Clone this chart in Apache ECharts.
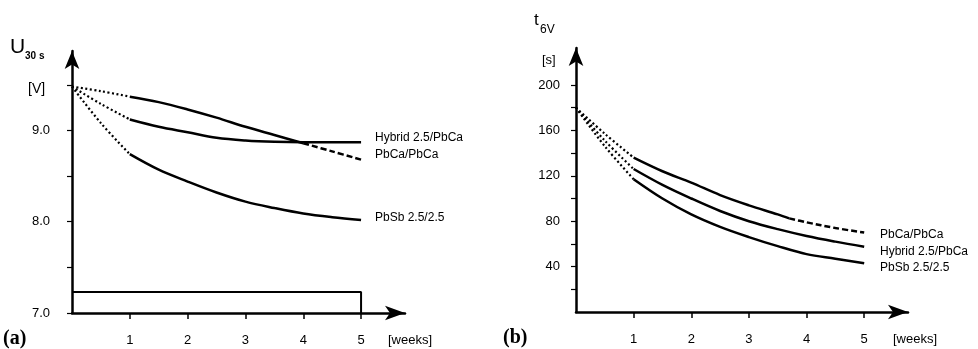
<!DOCTYPE html>
<html>
<head>
<meta charset="utf-8">
<script src="https://cdn.jsdelivr.net/npm/echarts@6/dist/echarts.min.js"></script>
<style>
  html, body { margin: 0; padding: 0; background: #fff; }
  #chart_box { width: 978px; height: 349px; }
</style>
</head>
<body>
<div id="chart_box"></div>
<script>
// weeks sampled on both panels
const weeks = [0, 0.5, 1, 1.5, 2, 2.5, 3, 3.5, 4, 4.5, 5];

// (a) U30s [V]
const pbcaA   = [9.48, 9.43, 9.37, 9.31, 9.23, 9.14, 9.04, 8.95, 8.86, 8.77, 8.68];
const hybridA = [9.48, 9.29, 9.12, 9.04, 8.98, 8.92, 8.89, 8.875, 8.87, 8.87, 8.87];
const pbsbA   = [9.48, 9.08, 8.74, 8.57, 8.44, 8.32, 8.22, 8.15, 8.09, 8.05, 8.02];
const boxX = [0, 5, 5];
const boxY = [7.23, 7.23, 7.0];
const yTicksA = [7, 7.5, 8, 8.5, 9, 9.5];
const yLabelsA = [7, 8, 9];

// (b) t6V [s]
const weeksPbcaB = [0, 0.5, 1, 1.5, 2, 2.5, 3, 3.5, 3.7, 4, 4.5, 5];
const pbcaB   = [180, 157, 136, 124, 114, 103, 94, 86, 82.5, 79, 74, 70];
const hybridB = [180, 151, 126, 112, 100, 89, 80, 73, 67, 62, 57.5];
const pbsbB   = [180, 146, 117, 100, 86, 75, 66, 58, 51, 47, 43];
const yTicksB = [20, 40, 60, 80, 100, 120, 140, 160, 180, 200];
const yLabelsB = [40, 80, 120, 160, 200];

const xTicks = [1, 2, 3, 4, 5];

const FONT = '"Liberation Sans", Arial, sans-serif';
const SERIF = '"Liberation Serif", "Times New Roman", serif';

// pick the part of a curve between two weeks
function seg(idx, xs, ys, from, to, dash, width) {
  const data = [];
  xs.forEach((x, i) => { if (x >= from && x <= to) data.push([x, ys[i]]); });
  return {
    type: 'line', xAxisIndex: idx, yAxisIndex: idx, data: data,
    smooth: 0.35, symbol: 'none', silent: true,
    lineStyle: { color: '#000', width: width || 2.5, type: dash || 'solid', cap: 'butt' }
  };
}

function xAxis(idx) {
  return {
    gridIndex: idx, type: 'value', min: 0, max: 5.76, interval: 1,
    axisLine: { show: true, lineStyle: { color: '#000', width: 2.5 },
      symbol: ['none', 'arrow'], symbolSize: [11, 20] },
    axisTick: { show: true, length: 6, customValues: xTicks, lineStyle: { color: '#000', width: 1.5 } },
    axisLabel: { customValues: xTicks, margin: 21, color: '#000', fontSize: 13, fontFamily: FONT },
    splitLine: { show: false }
  };
}

const DOT = [2, 2.5];
const DASH = [6, 3];

let myChart = echarts.init(document.getElementById('chart_box'));
myChart.setOption({
  animation: false,
  backgroundColor: '#fff',
  grid: [
    { left: 72, top: 51, width: 333, height: 262 },
    { left: 576, top: 48, width: 332, height: 264 }
  ],
  xAxis: [xAxis(0), xAxis(1)],
  yAxis: [
    {
      gridIndex: 0, type: 'value', min: 7, max: 9.87,
      axisLine: { show: true, lineStyle: { color: '#000', width: 2.5 },
        symbol: ['none', 'arrow'], symbolSize: [11, 18] },
      axisTick: { show: true, length: 5, customValues: yTicksA, lineStyle: { color: '#000', width: 1.2 } },
      axisLabel: { customValues: yLabelsA, margin: 22, color: '#000', fontSize: 13, fontFamily: FONT,
        formatter: v => v.toFixed(1) },
      splitLine: { show: false }
    },
    {
      gridIndex: 1, type: 'value', min: 0, max: 232.6,
      axisLine: { show: true, lineStyle: { color: '#000', width: 2.5 },
        symbol: ['none', 'arrow'], symbolSize: [11, 18] },
      axisTick: { show: true, length: 5, customValues: yTicksB, lineStyle: { color: '#000', width: 1.2 } },
      axisLabel: { customValues: yLabelsB, margin: 16, color: '#000', fontSize: 13, fontFamily: FONT },
      splitLine: { show: false }
    }
  ],
  series: [
    // (a)
    seg(0, weeks, pbcaA, 0, 1, DOT, 2.2),
    seg(0, weeks, pbcaA, 1, 4),
    seg(0, weeks, pbcaA, 4, 5, DASH),
    seg(0, weeks, hybridA, 0, 1, DOT, 2.2),
    seg(0, weeks, hybridA, 1, 5),
    seg(0, weeks, pbsbA, 0, 1, DOT, 2.2),
    seg(0, weeks, pbsbA, 1, 5),
    {
      type: 'line', xAxisIndex: 0, yAxisIndex: 0, symbol: 'none', silent: true,
      data: boxX.map((x, i) => [x, boxY[i]]),
      lineStyle: { color: '#000', width: 2 }
    },
    // (b)
    seg(1, weeksPbcaB, pbcaB, 0, 1, DOT, 2.2),
    seg(1, weeksPbcaB, pbcaB, 1, 3.7),
    seg(1, weeksPbcaB, pbcaB, 3.7, 5, DASH),
    seg(1, weeks, hybridB, 0, 1, DOT, 2.2),
    seg(1, weeks, hybridB, 1, 5),
    seg(1, weeks, pbsbB, 0, 1, DOT, 2.2),
    seg(1, weeks, pbsbB, 1, 5)
  ],
  graphic: [
    { type: 'text', x: 10, y: 47, style: { text: 'U', font: '21px ' + FONT, fill: '#000', verticalAlign: 'middle' } },
    { type: 'text', x: 25, y: 56, style: { text: '30 s', font: 'bold 10px ' + FONT, fill: '#000', verticalAlign: 'middle' } },
    { type: 'text', x: 28, y: 89, style: { text: '[V]', font: '14px ' + FONT, fill: '#000', verticalAlign: 'middle' } },
    { type: 'text', x: 534, y: 20, style: { text: 't', font: '17px ' + FONT, fill: '#000', verticalAlign: 'middle' } },
    { type: 'text', x: 540, y: 30, style: { text: '6V', font: '12px ' + FONT, fill: '#000', verticalAlign: 'middle' } },
    { type: 'text', x: 542, y: 60, style: { text: '[s]', font: '13px ' + FONT, fill: '#000', verticalAlign: 'middle' } },

    { type: 'text', x: 375, y: 138, style: { text: 'Hybrid 2.5/PbCa', font: '12px ' + FONT, fill: '#000', verticalAlign: 'middle' } },
    { type: 'text', x: 375, y: 155, style: { text: 'PbCa/PbCa', font: '12px ' + FONT, fill: '#000', verticalAlign: 'middle' } },
    { type: 'text', x: 375, y: 218, style: { text: 'PbSb 2.5/2.5', font: '12px ' + FONT, fill: '#000', verticalAlign: 'middle' } },
    { type: 'text', x: 880, y: 235, style: { text: 'PbCa/PbCa', font: '12px ' + FONT, fill: '#000', verticalAlign: 'middle' } },
    { type: 'text', x: 880, y: 252, style: { text: 'Hybrid 2.5/PbCa', font: '12px ' + FONT, fill: '#000', verticalAlign: 'middle' } },
    { type: 'text', x: 880, y: 268, style: { text: 'PbSb 2.5/2.5', font: '12px ' + FONT, fill: '#000', verticalAlign: 'middle' } },

    { type: 'text', x: 388, y: 340, style: { text: '[weeks]', font: '13px ' + FONT, fill: '#000', verticalAlign: 'middle' } },
    { type: 'text', x: 893, y: 339, style: { text: '[weeks]', font: '13px ' + FONT, fill: '#000', verticalAlign: 'middle' } },
    { type: 'text', x: 3, y: 339, style: { text: '(a)', font: 'bold 20px ' + SERIF, fill: '#000', verticalAlign: 'middle' } },
    { type: 'text', x: 503, y: 338, style: { text: '(b)', font: 'bold 20px ' + SERIF, fill: '#000', verticalAlign: 'middle' } }
  ]
});
</script>
</body>
</html>
